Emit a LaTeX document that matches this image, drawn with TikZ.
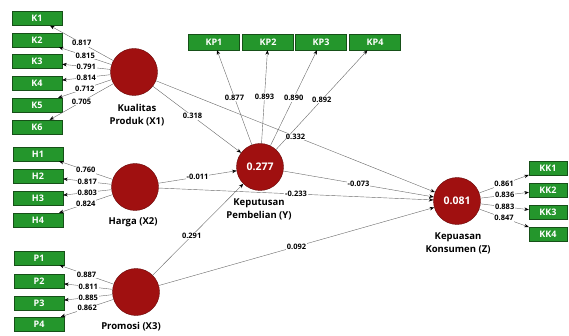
\documentclass[tikz,border=0pt]{standalone}
\usepackage{fontspec}
\setmainfont{Open Sans}
\usetikzlibrary{shapes.geometric, arrows.meta}

\definecolor{itemgreen}{RGB}{36,150,44}
\definecolor{itemborder}{RGB}{22,80,24}
\definecolor{lvred}{RGB}{160,16,16}
\definecolor{lvborder}{RGB}{105,10,10}
\definecolor{linkgray}{RGB}{105,105,105}

\tikzset{
  item/.style={draw=itemborder, fill=itemgreen, rectangle, minimum width=50pt, minimum height=14pt, inner sep=0pt, text=white, font=\bfseries\fontsize{9}{9}\selectfont},
  latent/.style={draw=lvborder, fill=lvred, circle, minimum size=47pt, inner sep=0pt, text=white, font=\bfseries\fontsize{10.5}{11}\selectfont},
  lvname/.style={align=center, font=\bfseries\fontsize{9.5}{13}\selectfont},
  coef/.style={fill=white, inner sep=0.8pt, font=\bfseries\fontsize{7.5}{7.5}\selectfont},
  link/.style={draw=linkgray, -{Stealth[black, length=4.5pt, width=3.5pt]}}
}

\begin{document}
\begin{tikzpicture}[x=1pt, y=-1pt]
    \useasboundingbox (0,0) rectangle (569,336);

    % Latent variables
    \node[latent] (x1) at (134,72) {};
    \node[latent] (x2) at (135,187) {};
    \node[latent] (x3) at (136,292) {};
    \node[latent] (y) at (260,167) {0.277};
    \node[latent] (z) at (457,201) {0.081};

    \node[lvname] (x1name) at (137,115) {Kualitas\\Produk (X1)};
    \node[lvname] (x2name) at (133,222) {Harga (X2)};
    \node[lvname] (x3name) at (131,327) {Promosi (X3)};
    \node[lvname] (yname) at (259,209.5) {Keputusan\\Pembelian (Y)};
    \node[lvname] (zname) at (458,243) {Kepuasan\\Konsumen (Z)};

    % Indicators of X1
    \node[item] (k1) at (37,18.5) {K1};
    \node[item] (k2) at (37,40) {K2};
    \node[item] (k3) at (37,61.5) {K3};
    \node[item] (k4) at (37,83) {K4};
    \node[item] (k5) at (37,105) {K5};
    \node[item] (k6) at (37,127) {K6};

    % Indicators of X2
    \node[item] (h1) at (38,154) {H1};
    \node[item] (h2) at (38,176) {H2};
    \node[item] (h3) at (38,198) {H3};
    \node[item] (h4) at (38,220) {H4};

    % Indicators of X3
    \node[item] (p1) at (39,258) {P1};
    \node[item] (p2) at (39,281) {P2};
    \node[item] (p3) at (39,303) {P3};
    \node[item] (p4) at (39,324) {P4};

    % Indicators of Y
    \node[item, minimum width=51pt, minimum height=16pt] (kp1) at (214,42) {KP1};
    \node[item, minimum width=51pt, minimum height=16pt] (kp2) at (268,42) {KP2};
    \node[item, minimum width=51pt, minimum height=16pt] (kp3) at (321,42) {KP3};
    \node[item, minimum width=51pt, minimum height=16pt] (kp4) at (375,42) {KP4};

    % Indicators of Z
    \node[item, minimum width=38pt] (kk1) at (548,168) {KK1};
    \node[item, minimum width=38pt] (kk2) at (548,190) {KK2};
    \node[item, minimum width=38pt] (kk3) at (548,212) {KK3};
    \node[item, minimum width=38pt] (kk4) at (548,234) {KK4};

    % Path coefficients
    \draw[link] (x1) -- node[coef, pos=0.45] {0.318} (y);
    \draw[link] (x1) -- node[coef] {0.332} (z);
    \draw[link] (x2) -- node[coef] {-0.011} (y);
    \draw[link] (x2) -- node[coef] {-0.233} (z);
    \draw[link] (x3) -- node[coef, pos=0.43] {0.291} (y);
    \draw[link] (x3) -- node[coef] {0.092} (z);
    \draw[link] (y) -- node[coef] {-0.073} (z);

    % Outer loadings
    \draw[link] (x1) -- node[coef] {0.817} (k1);
    \draw[link] (x1) -- node[coef] {0.815} (k2);
    \draw[link] (x1) -- node[coef] {0.791} (k3);
    \draw[link] (x1) -- node[coef] {0.814} (k4);
    \draw[link] (x1) -- node[coef] {0.712} (k5);
    \draw[link] (x1) -- node[coef] {0.705} (k6);

    \draw[link] (x2) -- node[coef] {0.760} (h1);
    \draw[link] (x2) -- node[coef] {0.817} (h2);
    \draw[link] (x2) -- node[coef] {0.803} (h3);
    \draw[link] (x2) -- node[coef] {0.824} (h4);

    \draw[link] (x3) -- node[coef] {0.887} (p1);
    \draw[link] (x3) -- node[coef] {0.811} (p2);
    \draw[link] (x3) -- node[coef] {0.885} (p3);
    \draw[link] (x3) -- node[coef] {0.862} (p4);

    \draw[link] (y) -- node[coef] {0.877} (kp1);
    \draw[link] (y) -- node[coef] {0.893} (kp2);
    \draw[link] (y) -- node[coef] {0.890} (kp3);
    \draw[link] (y) -- node[coef] {0.892} (kp4);

    \draw[link] (z) -- node[coef] {0.861} (kk1);
    \draw[link] (z) -- node[coef] {0.836} (kk2);
    \draw[link] (z) -- node[coef] {0.883} (kk3);
    \draw[link] (z) -- node[coef] {0.847} (kk4);

\end{tikzpicture}
\end{document}
